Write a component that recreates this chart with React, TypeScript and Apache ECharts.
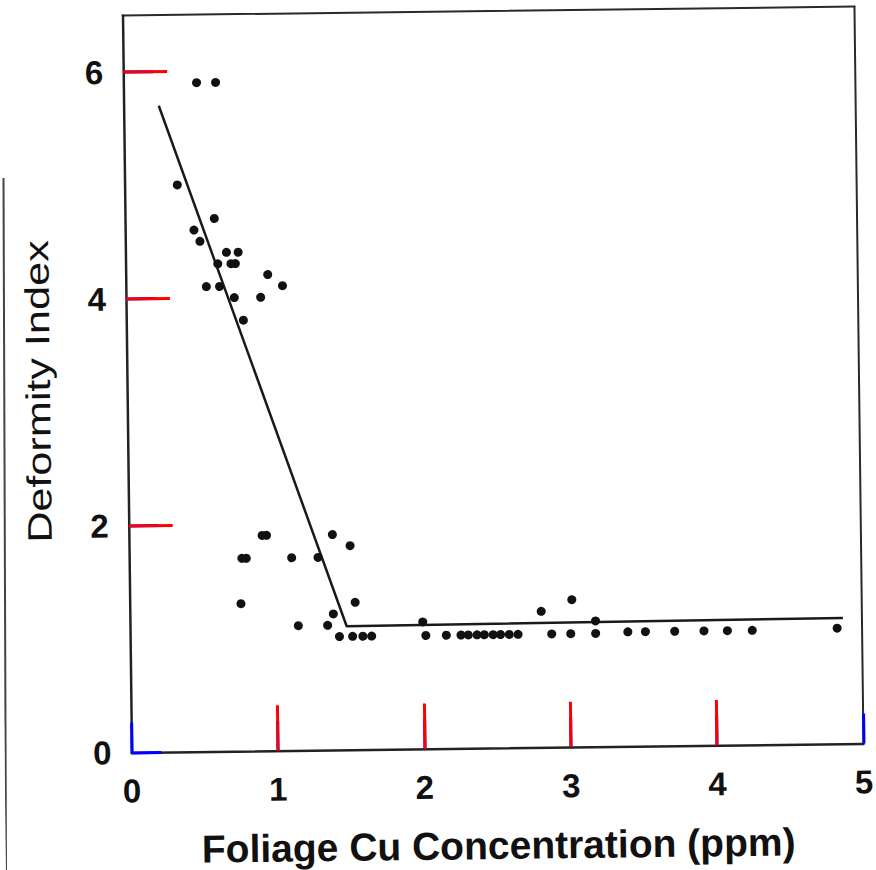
import React, { useEffect, useRef } from "react";
import * as echarts from "echarts";

// Observed points: foliage Cu concentration (ppm) and deformity index
const cuConcentration = [
  0.50, 0.63,
  0.36, 0.61, 0.47, 0.51, 0.69, 0.77, 0.63, 0.72, 0.75, 0.97, 1.07, 0.55, 0.64, 0.74, 0.92, 0.80,
  0.91, 0.94, 1.39, 1.51, 0.77, 0.80, 1.11, 1.29, 0.76, 1.54, 1.39, 1.15, 1.35,
  1.43, 1.52, 1.59, 1.65,
  2.00, 2.02, 2.16, 2.26, 2.31, 2.37, 2.42, 2.48, 2.53, 2.59, 2.65,
  2.81, 3.02, 2.88, 3.01, 3.18, 3.18, 3.40, 3.52, 3.72, 3.92, 4.08, 4.25, 4.83,
];
const deformityIndex = [
  5.9, 5.9,
  5.0, 4.7, 4.6, 4.5, 4.4, 4.4, 4.3, 4.3, 4.3, 4.2, 4.1, 4.1, 4.1, 4.0, 4.0, 3.8,
  1.9, 1.9, 1.9, 1.8, 1.7, 1.7, 1.7, 1.7, 1.3, 1.3, 1.2, 1.1, 1.1,
  1.0, 1.0, 1.0, 1.0,
  1.12, 1.0, 1.0, 1.0, 1.0, 1.0, 1.0, 1.0, 1.0, 1.0, 1.0,
  1.2, 1.3, 1.0, 1.0, 1.11, 1.0, 1.01, 1.01, 1.01, 1.01, 1.01, 1.01, 1.02,
];

const fitCu = [0.24, 1.48, 4.87];
const fitDeformity = [5.7, 1.09, 1.11];

const xRange = [0, 5];
const xStep = 1;
const yRange = [0, 6.5];
const yStep = 2;
const xInnerTicks = [1, 2, 3, 4];
const yInnerTicks = [2, 4, 6];

const xTitle = "Foliage Cu Concentration (ppm)";
const yTitle = "Deformity Index";

const FONT = "'Liberation Sans', Arial, Helvetica, sans-serif";

export default function App() {
  const ref = useRef<HTMLDivElement | null>(null);

  useEffect(() => {
    if (!ref.current) return;
    const chart = echarts.init(ref.current, null, { renderer: "svg" });
    const points = cuConcentration.map((x, i) => [x, deformityIndex[i]]);
    const fit = fitCu.map((x, i) => [x, fitDeformity[i]]);

    const tickLenY = 0.4;
    const tickLenX = 0.3;
    const tickSegments = [
      ...xInnerTicks.map((v) => [{ coord: [v, yRange[0]] }, { coord: [v, yRange[0] + tickLenY] }]),
      ...yInnerTicks.map((v) => [{ coord: [xRange[0], v] }, { coord: [xRange[0] + tickLenX, v] }]),
    ];

    const labelStyle = {
      fontFamily: FONT,
      fontSize: 33,
      fontWeight: "bold",
      color: "#111",
    };
    const frameAxis = {
      type: "value",
      axisLine: { show: true, onZero: false, lineStyle: { color: "#2a2a2a", width: 2 } },
      axisTick: { show: false },
      axisLabel: { show: false },
      splitLine: { show: false },
    };

    chart.setOption({
      animation: false,
      backgroundColor: "#ffffff",
      grid: { left: 127, right: 17, top: 11, bottom: 121 },
      xAxis: [
        {
          type: "value",
          position: "bottom",
          min: xRange[0],
          max: xRange[1],
          interval: xStep,
          name: xTitle,
          nameLocation: "middle",
          nameGap: 78,
          nameTextStyle: { ...labelStyle, fontSize: 39 },
          axisLine: { show: true, onZero: false, lineStyle: { color: "#222", width: 2.5 } },
          axisTick: { show: true, inside: true, length: 30, lineStyle: { color: "blue", width: 3 } },
          axisLabel: { ...labelStyle, margin: 22 },
          splitLine: { show: false },
        },
        { ...frameAxis, position: "top", min: xRange[0], max: xRange[1] },
      ],
      yAxis: [
        {
          type: "value",
          position: "left",
          min: yRange[0],
          max: yRange[1],
          interval: yStep,
          axisLine: { show: true, onZero: false, lineStyle: { color: "#222", width: 2.5 } },
          axisTick: { show: true, inside: true, length: 30, lineStyle: { color: "blue", width: 3 } },
          axisLabel: { ...labelStyle, showMaxLabel: false, margin: 20 },
          splitLine: { show: false },
        },
        { ...frameAxis, position: "right", min: yRange[0], max: yRange[1] },
      ],
      graphic: [
        {
          type: "text",
          x: 38,
          y: 386,
          rotation: Math.PI / 2,
          scaleX: 1.27,
          style: {
            text: yTitle,
            fontFamily: FONT,
            fontSize: 34,
            fill: "#111",
            align: "center",
            verticalAlign: "middle",
          },
        },
        {
          type: "line",
          shape: { x1: 6, y1: 172, x2: 0, y2: 870 },
          style: { stroke: "#444", lineWidth: 2 },
        },
      ],
      series: [
        {
          type: "line",
          data: fit,
          showSymbol: false,
          symbol: "none",
          lineStyle: { color: "#1a1a1a", width: 2.5 },
          z: 2,
          markLine: {
            silent: true,
            symbol: ["none", "none"],
            label: { show: false },
            lineStyle: { color: "red", width: 3, type: "solid", opacity: 1 },
            data: tickSegments,
          },
        },
        {
          type: "scatter",
          data: points,
          symbol: "circle",
          symbolSize: 9,
          itemStyle: { color: "#111", opacity: 1 },
          z: 3,
        },
      ],
    });

    return () => {
      chart.dispose();
    };
  }, []);

  return (
    <div
      ref={ref}
      style={{
        position: "absolute",
        left: 0,
        top: 0,
        width: 876,
        height: 870,
        transform: "rotate(-0.7deg)",
        transformOrigin: "493px 380px",
      }}
    />
  );
}
